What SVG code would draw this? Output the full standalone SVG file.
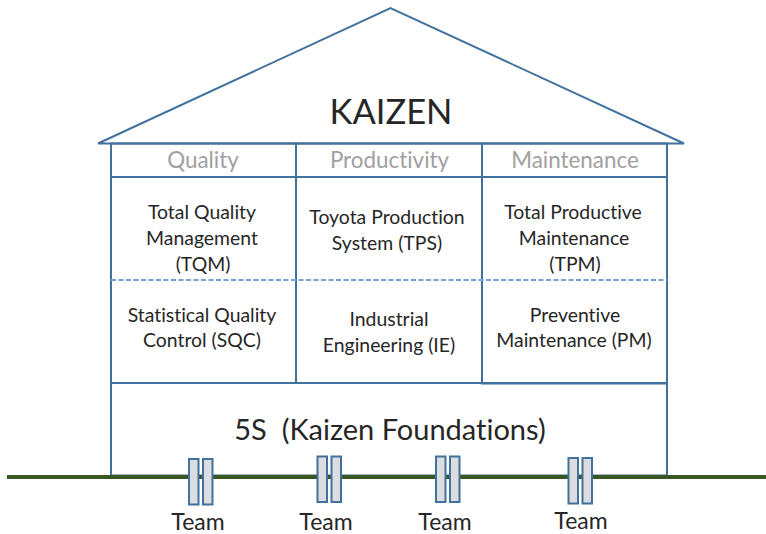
<svg xmlns="http://www.w3.org/2000/svg" width="766" height="534" viewBox="0 0 766 534">
<style>
text{font-family:"Lato","Liberation Sans",sans-serif;fill:#262626;text-anchor:middle;font-variant-ligatures:none}
.l{fill:none;stroke:#41719c;stroke-width:2}
.t{font-size:19.400px}
.h{font-size:22.400px;fill:#a0a0a0}
.team{font-size:23px}
.p{fill:#dcdde0;stroke:#41719c;stroke-width:2}
.d{fill:none;stroke:#6fa5d9;stroke-width:2;stroke-dasharray:5 2.500}
</style>
<rect width="766" height="534" fill="#fff"/>
<g id="roof"><path class="l" d="M98 143.500L390.500 8L684 143.500Z"/><text x="391" y="124" font-size="34.500">KAIZEN</text></g>
<g id="quality-head"><rect class="l" x="111" y="143.500" width="185" height="33.500"/><text class="h" x="203" y="168">Quality</text></g>
<g id="productivity-head"><rect class="l" x="296" y="143.500" width="186" height="33.500"/><text class="h" x="389.500" y="168">Productivity</text></g>
<g id="maintenance-head"><rect class="l" x="482" y="143.500" width="185" height="33.500"/><text class="h" x="575" y="168">Maintenance</text></g>
<g id="quality-col"><rect class="l" x="111" y="177" width="185" height="206"/>
<text class="t" x="202" y="219">Total Quality</text><text class="t" x="202" y="245">Management</text><text class="t" x="203" y="271">(TQM)</text>
<text class="t" x="202" y="322">Statistical Quality</text><text class="t" x="202" y="347">Control (SQC)</text></g>
<g id="productivity-col"><rect class="l" x="296" y="177" width="186" height="206"/>
<text class="t" x="387" y="224">Toyota Production</text><text class="t" x="387" y="250">System (TPS)</text>
<text class="t" x="389" y="326">Industrial</text><text class="t" x="389" y="352">Engineering (IE)</text></g>
<g id="maintenance-col"><rect class="l" x="482" y="177" width="185" height="206.500"/>
<text class="t" x="573" y="219">Total Productive</text><text class="t" x="574" y="245">Maintenance</text><text class="t" x="575" y="271">(TPM)</text>
<text class="t" x="575" y="322">Preventive</text><text class="t" x="574" y="347">Maintenance (PM)</text></g>
<g id="foundation"><path class="l" d="M111 383H667V475.500H111Z"/><text x="390" y="440" font-size="29" style="white-space:pre">5S  (Kaizen Foundations)</text></g>
<g id="connectors">
<line id="ground" x1="7" y1="477" x2="766" y2="477" stroke="#385723" stroke-width="4"/>
<line class="d" x1="111" y1="280" x2="667" y2="280"/>
</g>
<g id="team1"><rect class="p" x="189" y="459" width="9.500" height="45.500"/><rect class="p" x="203" y="459" width="9.500" height="45.500"/><text class="team" x="198" y="529.500">Team</text></g>
<g id="team2"><rect class="p" x="317.500" y="456.500" width="9.500" height="45.500"/><rect class="p" x="331.500" y="456.500" width="9.500" height="45.500"/><text class="team" x="326" y="529.500">Team</text></g>
<g id="team3"><rect class="p" x="436" y="456.500" width="9.500" height="45.500"/><rect class="p" x="450" y="456.500" width="9.500" height="45.500"/><text class="team" x="445" y="529.500">Team</text></g>
<g id="team4"><rect class="p" x="568.500" y="458" width="9.500" height="45.500"/><rect class="p" x="582.500" y="458" width="9.500" height="45.500"/><text class="team" x="581" y="529">Team</text></g>
</svg>
